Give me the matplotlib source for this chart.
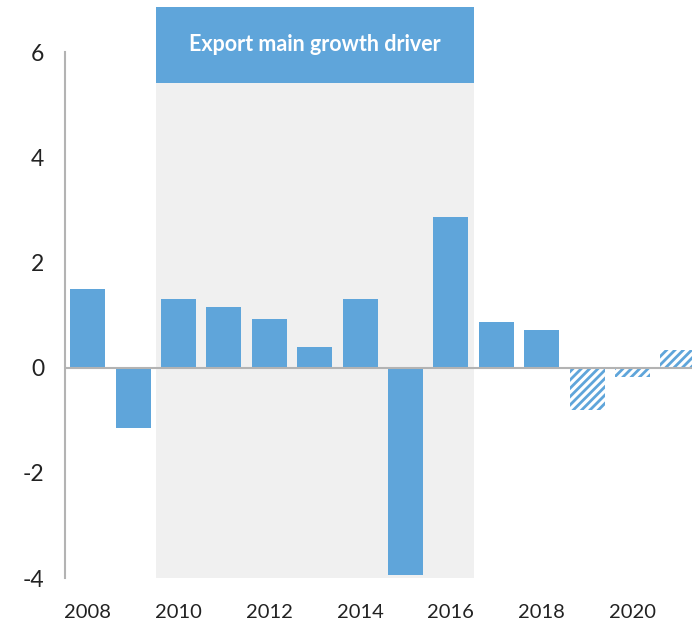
import numpy as np
import matplotlib
matplotlib.use("Agg")
import matplotlib.pyplot as plt

years = [2008, 2009, 2010, 2011, 2012, 2013, 2014, 2015, 2016, 2017, 2018, 2019, 2020, 2021]
values = [1.50, -1.14, 1.31, 1.16, 0.93, 0.40, 1.31, -3.95, 2.87, 0.86, 0.72, -0.80, -0.17, 0.34]
forecast = [False] * 11 + [True] * 3
xtick_years = [2008, 2010, 2012, 2014, 2016, 2018, 2020]
yticks = [-4, -2, 0, 2, 4, 6]
band_start, band_end = 2009.5, 2016.5
band_label = "Export main growth driver"

blue = "#5fa5da"
plt.rcParams['font.family'] = ['Lato', 'DejaVu Sans']
plt.rcParams['hatch.linewidth'] = 2.0

fig = plt.figure(figsize=(6.92, 6.27), dpi=100)
ax = fig.add_axes([0.094, 0.078, 0.906, 0.911])

ymin, ymax = -4, 6.86
band_top = 5.42
ax.fill_between([band_start, band_end], ymin, band_top, color="#f0f0f0", zorder=0, linewidth=0)
ax.fill_between([band_start, band_end], band_top, ymax, color=blue, zorder=0, linewidth=0)
ax.text((band_start + band_end) / 2, (band_top + ymax) / 2, band_label, color="white",
        fontsize=15.5, fontweight="bold", ha="center", va="center")

for yr, v, fc in zip(years, values, forecast):
    if fc:
        ax.bar(yr, v, width=0.77, color="white", edgecolor=blue, hatch="////", linewidth=0, zorder=2)
    else:
        ax.bar(yr, v, width=0.77, color=blue, linewidth=0, zorder=2)

ax.axhline(0, color="#b3b3b3", linewidth=1.5, zorder=3)

ax.set_xlim(2007.5, 2021.31)
ax.set_ylim(ymin, ymax)
ax.set_xticks(xtick_years)
ax.set_xticklabels([str(y) for y in xtick_years])
ax.set_yticks(yticks)
ax.set_yticklabels([str(t) for t in yticks])
ax.tick_params(length=0, labelsize=14.5, colors="#222222")
ax.tick_params(axis="y", labelsize=16.5, pad=15)
ax.tick_params(axis="x", pad=19)

for s in ["top", "right", "bottom"]:
    ax.spines[s].set_visible(False)
ax.spines["left"].set_color("#b3b3b3")
ax.spines["left"].set_linewidth(1.5)
ax.spines["left"].set_bounds(-4, 6)

fig.savefig("out.png", dpi=100)
